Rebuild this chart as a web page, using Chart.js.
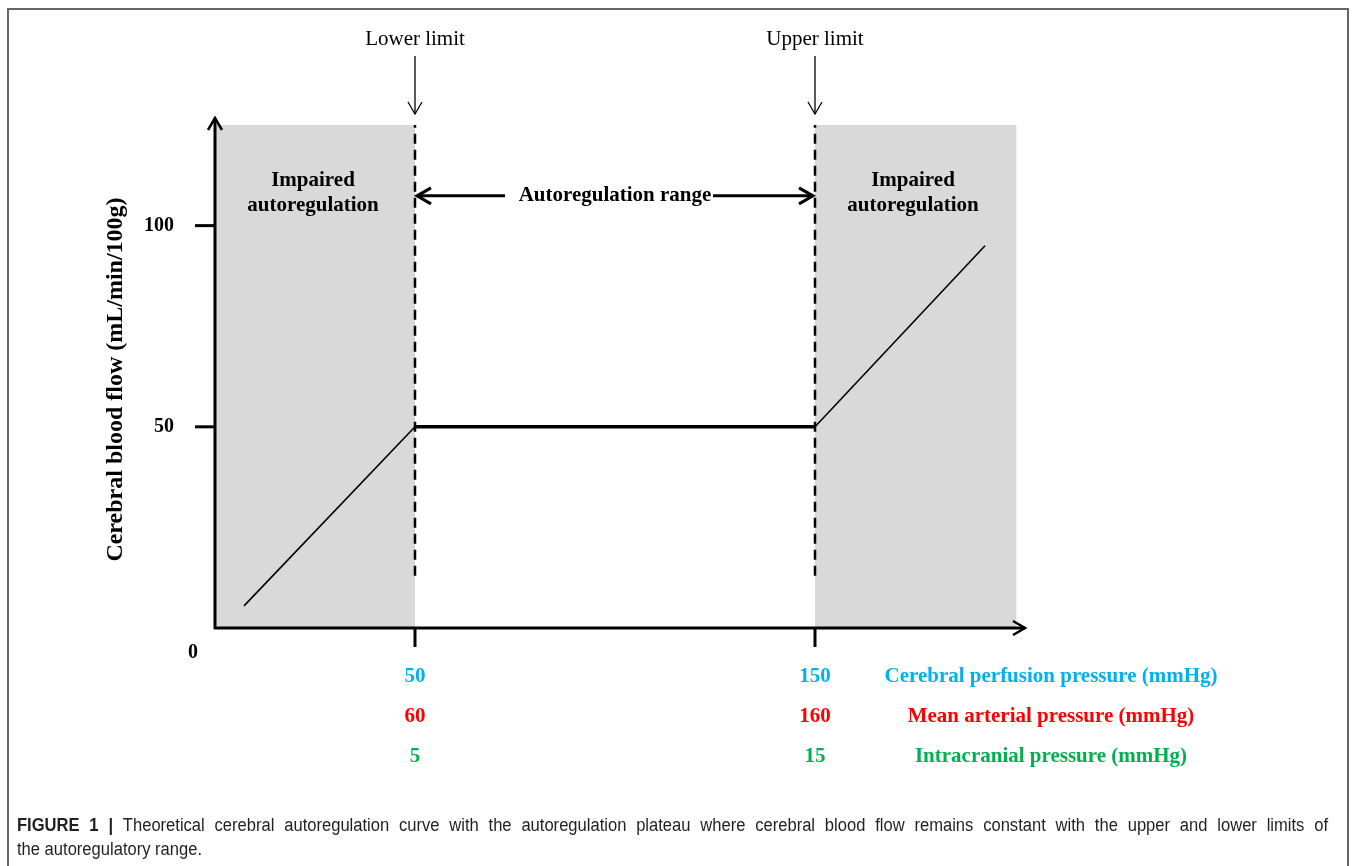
<!DOCTYPE html>
<html><head><meta charset="utf-8">
<style>html,body{margin:0;padding:0;background:#fff;} #wrap{position:relative;width:1357px;height:866px;}</style>
<script src="https://cdn.jsdelivr.net/npm/chart.js@4.4.1/dist/chart.umd.min.js"></script>
</head><body><div id="wrap"><canvas id="c" width="1357" height="866"></canvas></div>
<script>
// ---- data ----
const leftSlopeX = [7.25, 50];
const leftSlopeY = [5.5, 50];
const plateauX = [50, 150];
const plateauY = [50, 50];
const rightSlopeX = [150, 192.5];
const rightSlopeY = [50, 95];
const limitX = [50, 150];
const limitLabels = ['Lower limit', 'Upper limit'];
const dashedY = [13, 125];
const shadeLeftX = [0, 50];
const shadeRightX = [150, 200.4];
const shadeTop = 125;
const yTickValues = [0, 50, 100];
const xTickValues = [50, 150];
const cppTicks = ['50', '150'];
const mapTicks = ['60', '160'];
const icpTicks = ['5', '15'];
const rowNames = ['Cerebral perfusion pressure (mmHg)', 'Mean arterial pressure (mmHg)', 'Intracranial pressure (mmHg)'];
const rowColors = ['#00B0F0', '#FF0000', '#00B050'];
const regionLabelX = [24.5, 174.5];
const regionLabelY = 108.2;
const regionLabelLines = ['Impaired', 'autoregulation'];
const rangeLabel = 'Autoregulation range';
const rangeY = 107.4;
const rangeTextX = 100;
const rangeGap = [72.5, 124.5];
const yTitle = 'Cerebral blood flow (mL/min/100g)';
const captionBold = 'FIGURE 1 |';
const captionLine1 = 'Theoretical cerebral autoregulation curve with the autoregulation plateau where cerebral blood flow remains constant with the upper and lower limits of';
const captionLine2 = 'the autoregulatory range.';

const pts = (xs, ys) => xs.map((x, i) => ({x, y: ys[i]}));
const SERIF = '"Liberation Serif", "Times New Roman", serif';
const SANS = '"Liberation Sans", Arial, sans-serif';

function arrowHead(ctx, x, y, dir, len, spread) {
  ctx.beginPath();
  ctx.moveTo(x - len * Math.cos(dir) + spread * Math.sin(dir), y - len * Math.sin(dir) - spread * Math.cos(dir));
  ctx.lineTo(x, y);
  ctx.lineTo(x - len * Math.cos(dir) - spread * Math.sin(dir), y - len * Math.sin(dir) + spread * Math.cos(dir));
  ctx.stroke();
}

const decor = {
  id: 'decor',
  beforeDraw(chart) {
    const ctx = chart.ctx;
    ctx.save();
    ctx.fillStyle = '#fff';
    ctx.fillRect(0, 0, chart.width, chart.height);
    ctx.strokeStyle = '#666';
    ctx.lineWidth = 2;
    ctx.beginPath();
    ctx.moveTo(8, 870); ctx.lineTo(8, 9); ctx.lineTo(1348, 9); ctx.lineTo(1348, 870);
    ctx.stroke();
    ctx.restore();
  },
  afterDatasetsDraw(chart) {
    const ctx = chart.ctx;
    const xs = chart.scales.x, ys = chart.scales.y;
    const X = v => xs.getPixelForValue(v), Y = v => ys.getPixelForValue(v);
    const ca = chart.chartArea;
    ctx.save();
    ctx.strokeStyle = '#000';
    ctx.fillStyle = '#000';
    ctx.lineCap = 'butt';
    // axes
    const x0 = X(0), y0 = Y(0);
    ctx.lineWidth = 3;
    ctx.beginPath(); ctx.moveTo(x0, y0 + 1); ctx.lineTo(x0, ca.top - 3); ctx.stroke();
    ctx.beginPath(); ctx.moveTo(x0 - 1, y0); ctx.lineTo(ca.right, y0); ctx.stroke();
    ctx.lineWidth = 2.5;
    arrowHead(ctx, x0, ca.top - 3, -Math.PI / 2, 12, 7);
    arrowHead(ctx, ca.right, y0, 0, 12, 7);
    // ticks
    ctx.lineWidth = 3;
    yTickValues.forEach(v => {
      if (v === 0) return;
      ctx.beginPath(); ctx.moveTo(x0 - 20, Y(v)); ctx.lineTo(x0, Y(v)); ctx.stroke();
    });
    xTickValues.forEach(v => {
      ctx.beginPath(); ctx.moveTo(X(v), y0); ctx.lineTo(X(v), y0 + 19); ctx.stroke();
    });
    // y tick labels
    ctx.font = 'bold 20px ' + SERIF;
    ctx.textBaseline = 'middle';
    ctx.textAlign = 'right';
    yTickValues.forEach(v => {
      if (v === 0) {
        ctx.textAlign = 'center';
        ctx.fillText(String(v), x0 - 22, y0 + 25);
        ctx.textAlign = 'right';
      } else {
        ctx.fillText(String(v), x0 - 41, Y(v));
      }
    });
    // y title
    ctx.save();
    ctx.translate(116, (Y(0) + Y(125)) / 2 + 3);
    ctx.rotate(-Math.PI / 2);
    ctx.textAlign = 'center';
    ctx.font = 'bold 24px ' + SERIF;
    ctx.fillText(yTitle, 0, 0);
    ctx.restore();
    // x tick label rows
    const rows = [cppTicks, mapTicks, icpTicks];
    rows.forEach((labels, r) => {
      const py = y0 + 49 + r * 40;
      ctx.fillStyle = rowColors[r];
      ctx.font = 'bold 21px ' + SERIF;
      ctx.textAlign = 'center';
      labels.forEach((t, i) => ctx.fillText(t, X(xTickValues[i]), py));
      ctx.fillText(rowNames[r], 1051, py);
    });
    // region labels
    ctx.fillStyle = '#000';
    ctx.font = 'bold 21px ' + SERIF;
    ctx.textAlign = 'center';
    regionLabelX.forEach(v => {
      ctx.fillText(regionLabelLines[0], X(v), Y(regionLabelY) - 12);
      ctx.fillText(regionLabelLines[1], X(v), Y(regionLabelY) + 13);
    });
    // autoregulation range arrow
    ctx.font = 'bold 21px ' + SERIF;
    ctx.fillText(rangeLabel, X(rangeTextX), Y(rangeY));
    ctx.lineWidth = 3;
    const ry = Y(rangeY);
    ctx.beginPath(); ctx.moveTo(X(limitX[0]) + 2, ry); ctx.lineTo(X(rangeGap[0]), ry); ctx.stroke();
    ctx.beginPath(); ctx.moveTo(X(rangeGap[1]), ry); ctx.lineTo(X(limitX[1]) - 2, ry); ctx.stroke();
    arrowHead(ctx, X(limitX[0]) + 2, ry, Math.PI, 14, 8);
    arrowHead(ctx, X(limitX[1]) - 2, ry, 0, 14, 8);
    // limit labels and down arrows
    ctx.font = '21px ' + SERIF;
    ctx.lineWidth = 1.3;
    limitX.forEach((v, i) => {
      const px = X(v);
      ctx.fillText(limitLabels[i], px, 39);
      ctx.beginPath(); ctx.moveTo(px, 56); ctx.lineTo(px, 114); ctx.stroke();
      arrowHead(ctx, px, 114, Math.PI / 2, 12, 7);
    });
    // caption (line 1 justified, slightly condensed face)
    ctx.textAlign = 'left';
    ctx.fillStyle = '#231f20';
    const sx = 0.92;
    const left = 17, right = 1328;
    const fs = '18px ';
    const tokens = captionBold.split(' ').map(w => ({w, b: true}))
      .concat(captionLine1.split(' ').map(w => ({w, b: false})));
    let total = 0;
    tokens.forEach(t => { ctx.font = (t.b ? 'bold ' : '') + fs + SANS; t.width = ctx.measureText(t.w).width * sx; total += t.width; });
    const gap = (right - left - total) / (tokens.length - 1);
    let cx = left;
    tokens.forEach(t => {
      ctx.font = (t.b ? 'bold ' : '') + fs + SANS;
      ctx.save(); ctx.translate(cx, 826); ctx.scale(sx, 1); ctx.fillText(t.w, 0, 0); ctx.restore();
      cx += t.width + gap;
    });
    ctx.font = fs + SANS;
    ctx.save(); ctx.translate(left, 850); ctx.scale(sx, 1); ctx.fillText(captionLine2, 0, 0); ctx.restore();
    ctx.restore();
  }
};

new Chart(document.getElementById('c'), {
  type: 'scatter',
  data: {
    datasets: [
      { data: pts(shadeLeftX, [shadeTop, shadeTop]), order: 5, showLine: true, fill: 'origin', backgroundColor: '#d9d9d9', borderWidth: 0, pointRadius: 0 },
      { data: pts(shadeRightX, [shadeTop, shadeTop]), order: 5, showLine: true, fill: 'origin', backgroundColor: '#d9d9d9', borderWidth: 0, pointRadius: 0 },
      { data: pts([limitX[0], limitX[0]], dashedY), order: 1, showLine: true, borderColor: '#000', borderWidth: 2.5, borderDash: [10, 6], pointRadius: 0 },
      { data: pts([limitX[1], limitX[1]], dashedY), order: 1, showLine: true, borderColor: '#000', borderWidth: 2.5, borderDash: [10, 6], pointRadius: 0 },
      { data: pts(leftSlopeX, leftSlopeY), order: 1, showLine: true, borderColor: '#000', borderWidth: 1.6, pointRadius: 0 },
      { data: pts(plateauX, plateauY), order: 1, showLine: true, borderColor: '#000', borderWidth: 3.5, pointRadius: 0 },
      { data: pts(rightSlopeX, rightSlopeY), order: 1, showLine: true, borderColor: '#000', borderWidth: 1.6, pointRadius: 0 }
    ]
  },
  options: {
    responsive: false,
    animation: false,
    layout: { padding: { left: 215, right: 332, top: 121, bottom: 238 } },
    plugins: { legend: { display: false }, tooltip: { enabled: false } },
    scales: {
      x: { type: 'linear', min: 0, max: 202.5, display: false },
      y: { type: 'linear', min: 0, max: 126, display: false }
    }
  },
  plugins: [decor]
});
</script>
</body></html>
